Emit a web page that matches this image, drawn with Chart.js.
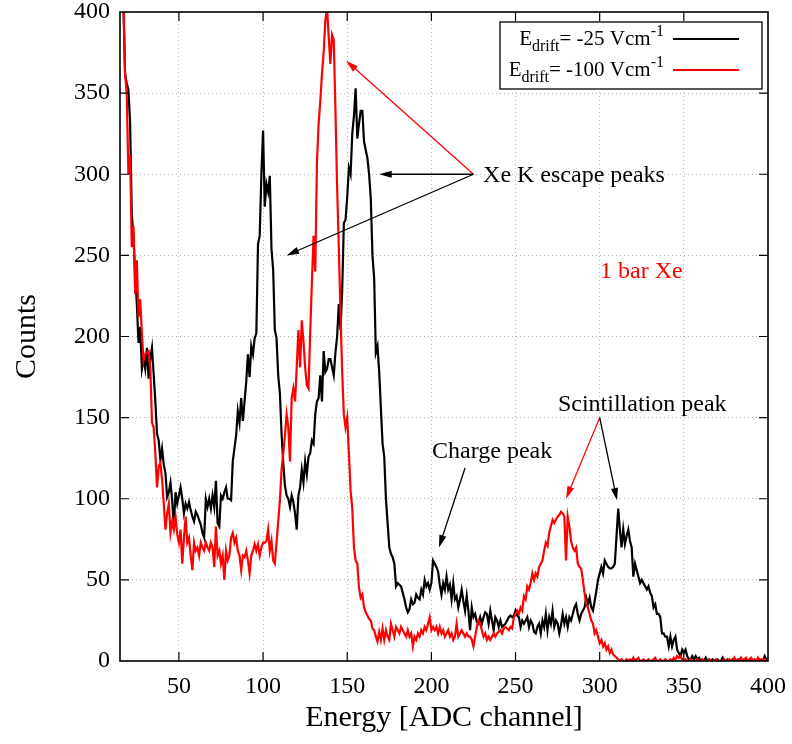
<!DOCTYPE html>
<html>
<head>
<meta charset="utf-8">
<script src="https://cdn.jsdelivr.net/npm/chart.js@4"></script>
<style>
    html, body { margin: 0; padding: 0; background: #fff; }
    #wrap { width: 792px; height: 744px; }
</style>
</head>
<body>
<div id="wrap"><canvas id="chart" width="792" height="744"></canvas></div>
<script>
// ADC channels 15..400, one count per channel
const firstChannel = 15;
const xTicks = [50, 100, 150, 200, 250, 300, 350, 400];
const yTicks = [0, 50, 100, 150, 200, 250, 300, 350, 400];

// E_drift = -25 V/cm (black)
const counts25 = [
    480, 430, 405, 362, 356, 352, 332, 275, 262, 238,
    220, 196, 206, 180, 186, 180, 193, 174, 186, 193,
    177, 160, 140, 136, 124, 131, 121, 116, 101, 104,
    110, 99, 83, 104, 97, 102, 107, 100, 91, 97,
    94, 98, 93, 89, 86, 92, 90, 87, 84, 79,
    76, 100, 95, 100, 94, 102, 95, 111, 85, 83,
    102, 100, 104, 107, 100, 100, 99, 123, 131, 139,
    154, 147, 162, 148, 160, 172, 189, 175, 194, 189,
    199, 202, 257, 262, 300, 327, 280, 294, 289, 299,
    254, 241, 204, 199, 176, 165, 140, 122, 108, 102,
    100, 95, 102, 98, 91, 81, 102, 107, 118, 110,
    123, 115, 126, 128, 136, 134, 152, 160, 162, 176,
    160, 191, 178, 180, 186, 186, 181, 176, 190, 200,
    220, 204, 228, 270, 272, 286, 304, 300, 325, 336,
    353, 322, 331, 339, 339, 320, 315, 310, 300, 285,
    250, 236, 190, 194, 178, 156, 134, 126, 100, 85,
    70, 66, 64, 60, 46, 48, 47, 46, 42, 38,
    33, 30, 32, 38, 35, 36, 41, 39, 38, 44,
    41, 50, 46, 48, 44, 48, 62, 60, 58, 55,
    47, 41, 48, 44, 52, 44, 47, 38, 48, 38,
    40, 33, 38, 44, 37, 31, 40, 31, 19, 33,
    27, 29, 24, 23, 27, 23, 27, 30, 29, 23,
    31, 25, 19, 27, 25, 21, 25, 21, 22, 23,
    25, 27, 28, 27, 28, 31, 28, 27, 21, 25,
    23, 25, 27, 21, 25, 23, 18, 17, 21, 23,
    17, 25, 21, 29, 19, 27, 23, 31, 21, 25,
    23, 17, 22, 29, 23, 27, 21, 27, 25, 29,
    33, 35, 29, 25, 29, 31, 33, 39, 35, 39,
    33, 31, 37, 43, 50, 54, 58, 54, 62, 60,
    58, 57, 57, 58, 60, 77, 94, 81, 70, 81,
    72, 77, 81, 74, 70, 52, 60, 56, 52, 48,
    50, 48, 46, 44, 46, 42, 40, 33, 35, 29,
    29, 27, 17, 17, 15, 15, 9, 15, 9, 13,
    15, 7, 5, 3, 7, 5, 7, 3, 1, 1,
    3, 1, 3, 1, 2, 0, 1, 0, 2, 0,
    1, 0, 1, 0, 0, 1, 0, 0, 2, 0,
    0, 1, 0, 0, 1, 0, 0, 0, 1, 0,
    0, 1, 0, 0, 0, 1, 0, 0, 0, 0,
    1, 0, 0, 3, 1, 0
];

// E_drift = -100 V/cm (red)
const counts100 = [
    480, 440, 410, 362, 350, 300, 312, 255, 268, 226,
    247, 212, 223, 202, 185, 189, 190, 191, 181, 147,
    144, 128, 107, 120, 122, 112, 97, 81, 91, 97,
    79, 86, 81, 89, 78, 73, 81, 60, 76, 89,
    73, 76, 65, 56, 73, 68, 70, 65, 73, 70,
    68, 73, 70, 68, 73, 70, 58, 83, 65, 68,
    60, 65, 50, 68, 62, 65, 76, 79, 73, 76,
    68, 65, 56, 65, 64, 68, 62, 54, 65, 68,
    72, 68, 72, 65, 70, 73, 73, 74, 81, 68,
    74, 62, 60, 73, 86, 99, 118, 128, 139, 152,
    144, 123, 162, 168, 160, 181, 204, 181, 210, 197,
    181, 170, 168, 202, 233, 262, 240, 307, 331, 345,
    362, 375, 395, 402, 385, 368, 386, 383, 340, 292,
    255, 215, 178, 152, 144, 150, 128, 105, 94, 70,
    62, 60, 45, 39, 41, 33, 30, 28, 26, 25,
    20, 19, 15, 12, 18, 13, 20, 13, 19, 15,
    13, 23, 19, 15, 21, 19, 17, 21, 19, 17,
    15, 19, 15, 17, 9, 15, 13, 17, 15, 19,
    17, 21, 19, 23, 27, 19, 21, 19, 21, 17,
    21, 17, 19, 15, 17, 19, 15, 17, 13, 15,
    23, 15, 17, 19, 17, 15, 17, 15, 15, 13,
    9, 15, 21, 25, 23, 19, 15, 17, 13, 15,
    13, 15, 17, 15, 17, 18, 19, 17, 20, 21,
    20, 19, 21, 20, 27, 29, 31, 29, 33, 31,
    40, 38, 46, 44, 48, 54, 50, 54, 52, 58,
    60, 62, 68, 73, 71, 79, 83, 87, 85, 87,
    89, 90, 92, 91, 89, 62, 89, 83, 74, 70,
    68, 70, 60, 58, 57, 50, 42, 35, 33, 29,
    25, 23, 17, 19, 15, 11, 13, 9, 11, 7,
    9, 5, 7, 4, 3, 2, 1, 0, 1, 0,
    0, 1, 0, 1, 0, 2, 0, 1, 2, 0,
    0, 1, 0, 0, 1, 0, 0, 1, 2, 0,
    0, 1, 0, 0, 1, 0, 0, 1, 0, 2,
    1, 3, 2, 3, 1, 0, 1, 0, 0, 1,
    0, 0, 0, 1, 0, 0, 1, 0, 0, 0,
    1, 0, 0, 0, 1, 0, 0, 0, 0, 1,
    0, 0, 1, 0, 0, 2, 0, 1, 0, 2,
    0, 1, 2, 0, 1, 2, 0, 1, 0, 2,
    0, 1, 0, 1, 0, 0
];

const seriesFields = ['-25', '-100'];
const seriesColors = ['#000000', '#ff0000'];

const serif = '"Liberation Serif", "DejaVu Serif", serif';

const toPoints = arr => arr.map((v, i) => ({ x: firstChannel + i, y: v }));

// annotation positions in data coordinates
const labels = [
    { text: 'Xe K escape peaks', x: 230.7, y: 295, color: '#000' },
    { text: '1 bar Xe', x: 300.2, y: 236, color: '#ff0000' },
    { text: 'Charge peak', x: 200.4, y: 125, color: '#000' },
    { text: 'Scintillation peak', x: 275.2, y: 154, color: '#000' }
];
const arrows = [
    { from: [225, 300], to: [149.3, 370], color: '#ff0000' },
    { from: [225, 300], to: [169, 300], color: '#000' },
    { from: [225, 300], to: [114, 250], color: '#000' },
    { from: [220, 119], to: [204.5, 70], color: '#000' },
    { from: [300, 150], to: [280, 100], color: '#ff0000' },
    { from: [300, 150], to: [310.3, 99], color: '#000' }
];

function drawArrow(ctx, x1, y1, x2, y2, color) {
    const a = Math.atan2(y2 - y1, x2 - x1);
    const len = 13, spread = 0.28;
    ctx.strokeStyle = color;
    ctx.fillStyle = color;
    ctx.lineWidth = 1.3;
    ctx.beginPath();
    ctx.moveTo(x1, y1);
    ctx.lineTo(x2 - len * 0.8 * Math.cos(a), y2 - len * 0.8 * Math.sin(a));
    ctx.stroke();
    ctx.beginPath();
    ctx.moveTo(x2, y2);
    ctx.lineTo(x2 - len * Math.cos(a - spread), y2 - len * Math.sin(a - spread));
    ctx.lineTo(x2 - len * Math.cos(a + spread), y2 - len * Math.sin(a + spread));
    ctx.closePath();
    ctx.fill();
}

// text with subscript/superscript pieces, right aligned at rightX
function drawRich(ctx, parts, rightX, baseline) {
    const main = 21, small = 16;
    const fontFor = p => (p.s === 'n' ? main : small) + 'px ' + serif;
    let total = 0;
    parts.forEach(p => { ctx.font = fontFor(p); total += ctx.measureText(p.t).width; });
    let x = rightX - total;
    ctx.textAlign = 'left';
    ctx.textBaseline = 'alphabetic';
    ctx.fillStyle = '#000';
    parts.forEach(p => {
        ctx.font = fontFor(p);
        const dy = p.s === 'sub' ? 6 : (p.s === 'sup' ? -9 : 0);
        ctx.fillText(p.t, x, baseline + dy);
        x += ctx.measureText(p.t).width;
    });
}

const decorPlugin = {
    id: 'decor',
    afterDraw(chart) {
        const { ctx, chartArea: a, scales: { x, y } } = chart;
        ctx.save();

        // inward ticks on all four sides
        ctx.strokeStyle = '#000';
        ctx.lineWidth = 1.2;
        ctx.beginPath();
        xTicks.forEach(v => {
            if (v >= x.max) return;
            const px = x.getPixelForValue(v);
            ctx.moveTo(px, a.bottom); ctx.lineTo(px, a.bottom - 9);
            ctx.moveTo(px, a.top); ctx.lineTo(px, a.top + 9);
        });
        yTicks.forEach(v => {
            if (v <= y.min || v >= y.max) return;
            const py = y.getPixelForValue(v);
            ctx.moveTo(a.left, py); ctx.lineTo(a.left + 9, py);
            ctx.moveTo(a.right, py); ctx.lineTo(a.right - 9, py);
        });
        ctx.stroke();

        // frame
        ctx.lineWidth = 1.6;
        ctx.strokeRect(a.left, a.top, a.right - a.left, a.bottom - a.top);

        // key box
        const boxL = a.left + 380, boxT = a.top + 10, boxR = a.right - 6, boxB = a.top + 77;
        ctx.fillStyle = '#fff';
        ctx.fillRect(boxL, boxT, boxR - boxL, boxB - boxT);
        ctx.lineWidth = 1.3;
        ctx.strokeStyle = '#000';
        ctx.strokeRect(boxL, boxT, boxR - boxL, boxB - boxT);
        seriesFields.forEach((f, i) => {
            const base = boxT + 23 + i * 31;
            drawRich(ctx, [
                { t: 'E', s: 'n' }, { t: 'drift', s: 'sub' },
                { t: '= ' + f + ' Vcm', s: 'n' }, { t: '-1', s: 'sup' }
            ], boxL + 164, base);
            ctx.strokeStyle = seriesColors[i];
            ctx.lineWidth = 2;
            ctx.beginPath();
            ctx.moveTo(boxL + 173, base - 6);
            ctx.lineTo(boxL + 239, base - 6);
            ctx.stroke();
        });

        // annotations
        arrows.forEach(ar => {
            drawArrow(ctx,
                x.getPixelForValue(ar.from[0]), y.getPixelForValue(ar.from[1]),
                x.getPixelForValue(ar.to[0]), y.getPixelForValue(ar.to[1]), ar.color);
        });
        ctx.font = '24px ' + serif;
        ctx.textAlign = 'left';
        ctx.textBaseline = 'alphabetic';
        labels.forEach(l => {
            ctx.fillStyle = l.color;
            ctx.fillText(l.text, x.getPixelForValue(l.x), y.getPixelForValue(l.y));
        });

        ctx.restore();
    }
};

const edgeAware = (edges) => c => (c.tick && edges.includes(c.tick.value)) ? 'rgba(0,0,0,0)' : '#b4b4b4';

const chart = new Chart(document.getElementById('chart').getContext('2d'), {
    type: 'line',
    data: {
        datasets: [
            {
                label: 'E_drift= -25 Vcm-1',
                data: toPoints(counts25),
                borderColor: seriesColors[0],
                borderWidth: 2.2,
                pointRadius: 0,
                tension: 0,
                fill: false,
                order: 1
            },
            {
                label: 'E_drift= -100 Vcm-1',
                data: toPoints(counts100),
                borderColor: seriesColors[1],
                borderWidth: 2.2,
                pointRadius: 0,
                tension: 0,
                fill: false,
                order: 0
            }
        ]
    },
    options: {
        responsive: false,
        animation: false,
        devicePixelRatio: 1,
        layout: { padding: { left: 0, right: 24, top: 12, bottom: 0 } },
        plugins: {
            legend: { display: false },
            tooltip: { enabled: false }
        },
        scales: {
            x: {
                type: 'linear',
                min: 15,
                max: 400,
                afterBuildTicks: s => { s.ticks = xTicks.map(v => ({ value: v })); },
                afterFit: s => { s.height = 83; s.paddingLeft = 0; s.paddingRight = 0; },
                grid: { color: edgeAware([400]), lineWidth: 1, drawTicks: false },
                border: { display: false, dash: [1, 3] },
                ticks: {
                    color: '#000',
                    padding: 14,
                    maxRotation: 0,
                    font: { family: serif, size: 24, lineHeight: 1 }
                },
                title: {
                    display: true,
                    text: 'Energy [ADC channel]',
                    color: '#000',
                    font: { family: serif, size: 30 },
                    padding: { top: 0, bottom: 8 }
                }
            },
            y: {
                type: 'linear',
                min: 0,
                max: 400,
                afterBuildTicks: s => { s.ticks = yTicks.map(v => ({ value: v })); },
                afterFit: s => { s.width = 120; s.paddingTop = 0; s.paddingBottom = 0; },
                grid: { color: edgeAware([0, 400]), lineWidth: 1, drawTicks: false },
                border: { display: false, dash: [1, 3] },
                ticks: {
                    color: '#000',
                    padding: 10,
                    font: { family: serif, size: 24, lineHeight: 1 }
                },
                title: {
                    display: true,
                    text: 'Counts',
                    color: '#000',
                    font: { family: serif, size: 30 },
                    padding: { top: 9, bottom: 0 }
                }
            }
        }
    },
    plugins: [decorPlugin]
});
</script>
</body>
</html>
